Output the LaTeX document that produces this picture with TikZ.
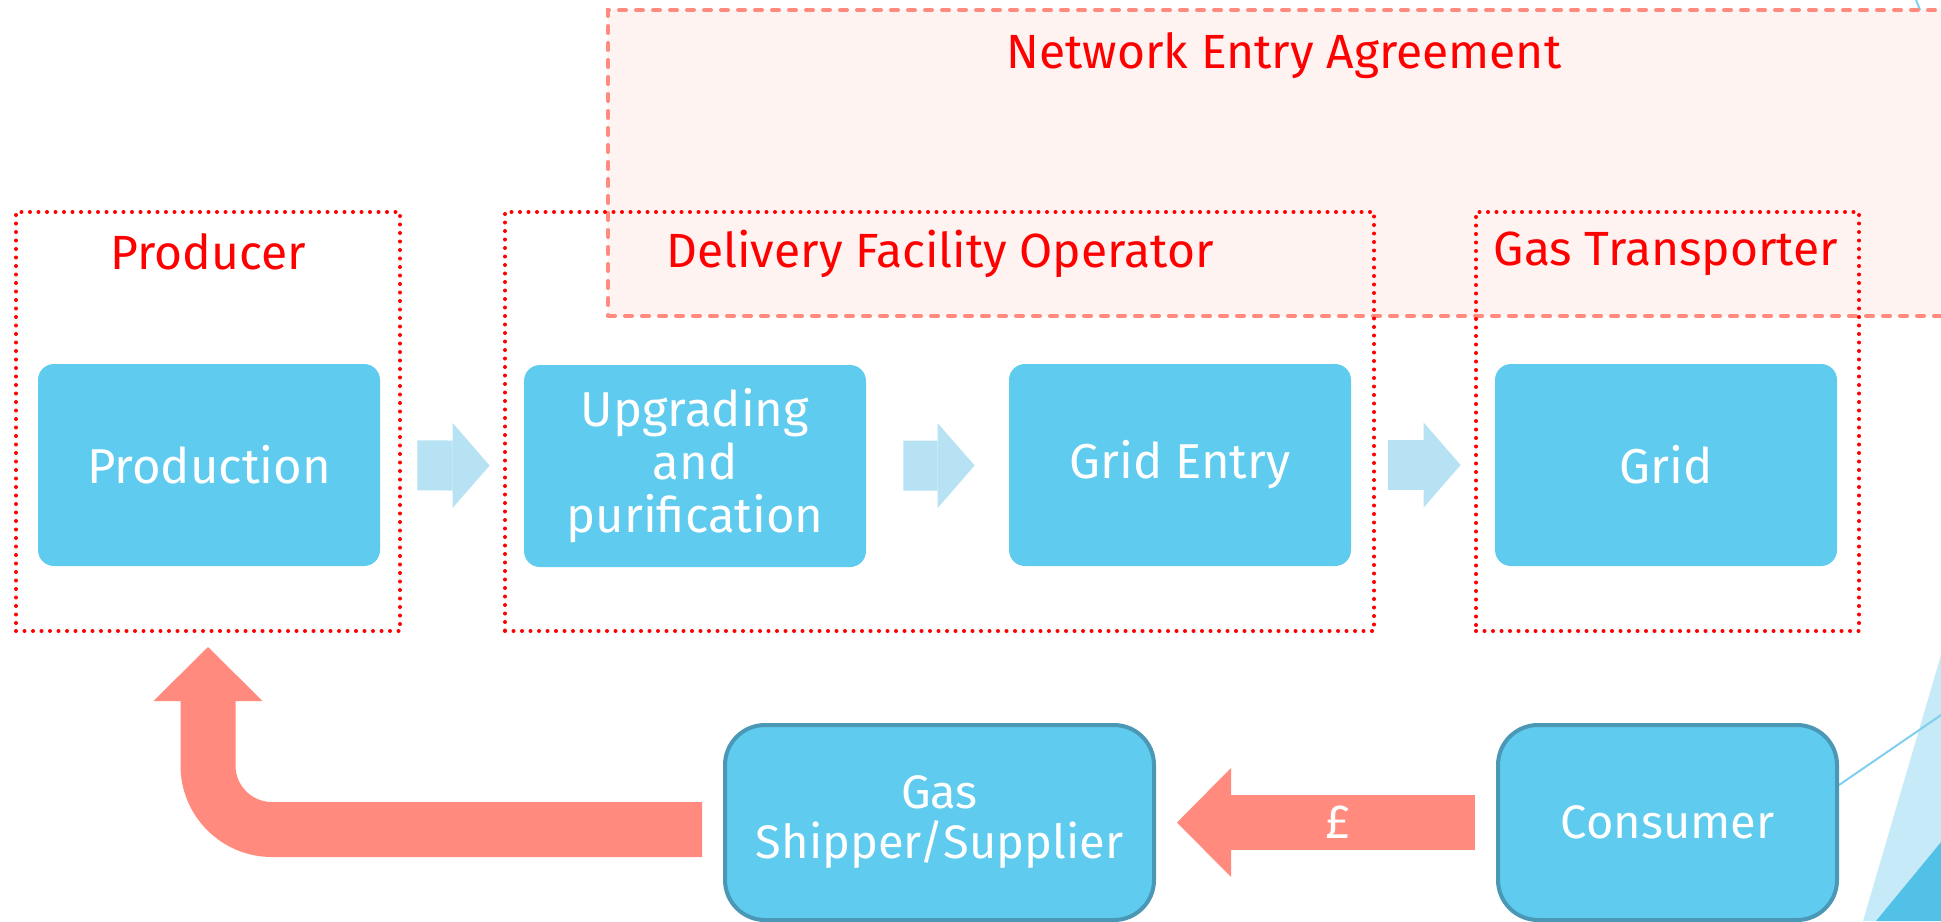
\documentclass[tikz,border=0pt]{standalone}
\usepackage{fontspec}
\setmainfont{Fira Sans}
\usetikzlibrary{arrows.meta}

\definecolor{boxblue}{RGB}{95,203,238}
\definecolor{boxedge}{RGB}{74,152,181}
\definecolor{flowblue}{RGB}{182,226,244}
\definecolor{salmon}{RGB}{255,138,125}
\definecolor{agreefill}{RGB}{255,243,242}
\definecolor{decolight}{RGB}{198,234,247}
\definecolor{decodark}{RGB}{81,193,232}
\definecolor{decoline}{RGB}{127,208,238}

\tikzset{
  stage/.style={rectangle, rounded corners=8pt, fill=boxblue, text=white, align=center,
    minimum width=171pt, minimum height=101pt, font=\fontsize{24.5}{26.5}\selectfont},
  party/.style={stage, draw=boxedge, line width=2pt, rounded corners=20pt, minimum height=97.5pt,
    font=\fontsize{23.5}{25}\selectfont},
  group/.style={rectangle, draw=red, line width=2pt, dash pattern=on 0pt off 4.25pt,
    line cap=round, minimum height=209.5pt},
  agreement/.style={rectangle, draw=salmon, fill=agreefill, line width=2pt, line cap=round,
    dash pattern=on 3.5pt off 5pt, minimum width=676pt, minimum height=153pt},
  grouptitle/.style={text=red, font=\fontsize{24}{28}\selectfont},
  flow/.style={draw=flowblue, line width=25pt,
    -{Triangle[length=18.5pt, width=42.5pt, line width=0pt]},
    shorten <=18.5pt, shorten >=17pt},
  pay/.style={draw=salmon, line width=27.5pt,
    -{Triangle[length=27pt, width=54.5pt, line width=0pt]},
    shorten <=10.5pt, shorten >=10.5pt},
}

\begin{document}
\begin{tikzpicture}[x=0.5pt, y=-0.5pt]
\useasboundingbox (0,0) rectangle (1941,921);
\clip (0,0) rectangle (1941,921);

% corner decoration
\fill[decolight] (1863,921) -- (1960,590) -- (1960,921) -- cycle;
\fill[decodark] (1876,921) -- (1960,819) -- (1960,921) -- cycle;
\draw[decoline, line width=1pt] (1839,785) -- (1960,702);
\draw[decoline, line width=1pt] (1916,0) -- (1945,72);

% agreement and the three parties
\node[agreement] (nea) at (1284,163) {};
\node[grouptitle] (neatitle) at (1284,56) {Network Entry Agreement};

\node[group, minimum width=192pt] (producer) at (208,421.5) {};
\node[group, minimum width=434.5pt] (dfo) at (939.5,421.5) {};
\node[group, minimum width=191.5pt] (transporter) at (1667.5,421.5) {};
\node[grouptitle] (producertitle) at (208,252) {Producer};
\node[grouptitle] (dfotitle) at (940,254) {Delivery Facility Operator};
\node[grouptitle] (transportertitle) at (1666,254) {Gas Transporter};

% gas chain
\node[stage] (prod) at (209,465) {Production};
\node[stage] (upgr) at (695,466) {Upgrading\\and\\purification};
\node[stage] (entry) at (1180,465) {Grid Entry};
\node[stage] (grid) at (1666,465) {Grid};

\draw[flow] (prod) -- (upgr);
\draw[flow] (upgr) -- (entry);
\draw[flow] (entry) -- (grid);

% money back
\node[party, minimum width=214.5pt] (shipper) at (939.5,822.5) {Gas\\Shipper/Supplier};
\node[party, minimum width=169.5pt] (consumer) at (1667.5,822.5) {Consumer};

\draw[pay] (consumer) -- (shipper)
  node[pos=0.465, text=white, font=\fontsize{24}{28}\selectfont] (pound) {£};
\draw[pay, rounded corners=32pt, shorten >=7pt] ([yshift=-3.5pt]shipper.west) -| (producer.south);
\end{tikzpicture}
\end{document}
